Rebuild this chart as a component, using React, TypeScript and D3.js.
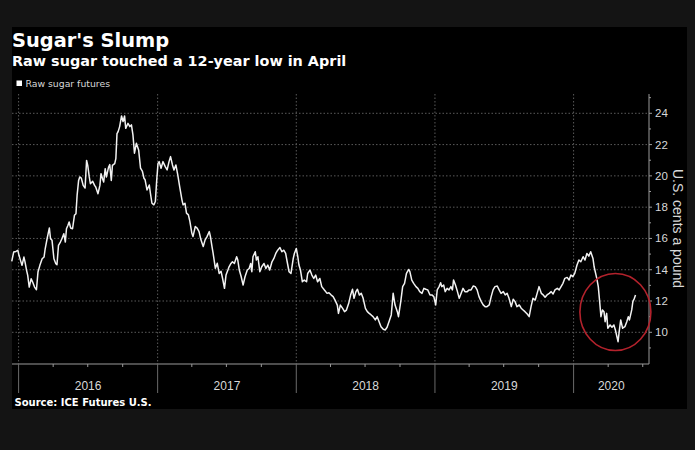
import React from "react";
import * as d3 from "d3";

const W = 695;
const H = 450;

const dates: string[] = [
  "2015-12-14","2015-12-19","2015-12-25","2015-12-30","2016-01-02","2016-01-06","2016-01-10","2016-01-15","2016-01-18","2016-01-22",
  "2016-01-25","2016-01-29","2016-02-03","2016-02-07","2016-02-12","2016-02-17","2016-02-21","2016-02-26","2016-03-03","2016-03-08",
  "2016-03-11","2016-03-16","2016-03-22","2016-03-25","2016-03-29","2016-04-03","2016-04-08","2016-04-11","2016-04-15","2016-04-20",
  "2016-04-24","2016-04-29","2016-05-03","2016-05-06","2016-05-10","2016-05-13","2016-05-17","2016-05-22","2016-05-27","2016-05-31",
  "2016-06-03","2016-06-07","2016-06-10","2016-06-14","2016-06-19","2016-06-24","2016-06-28","2016-07-01","2016-07-05","2016-07-08",
  "2016-07-14","2016-07-19","2016-07-22","2016-07-28","2016-08-02","2016-08-05","2016-08-09","2016-08-12","2016-08-16","2016-08-19",
  "2016-08-25","2016-08-28","2016-09-01","2016-09-04","2016-09-10","2016-09-13","2016-09-16","2016-09-19","2016-09-23","2016-09-28",
  "2016-10-02","2016-10-06","2016-10-09","2016-10-15","2016-10-20","2016-10-24","2016-10-28","2016-11-01","2016-11-06","2016-11-12",
  "2016-11-17","2016-11-22","2016-11-26","2016-11-29","2016-12-04","2016-12-10","2016-12-13","2016-12-17","2016-12-22","2016-12-26",
  "2016-12-29","2017-01-02","2017-01-05","2017-01-10","2017-01-15","2017-01-21","2017-01-26","2017-01-31","2017-02-04","2017-02-09",
  "2017-02-13","2017-02-18","2017-02-23","2017-02-28","2017-03-06","2017-03-09","2017-03-14","2017-03-18","2017-03-23","2017-03-27",
  "2017-04-01","2017-04-04","2017-04-10","2017-04-15","2017-04-20","2017-04-25","2017-05-01","2017-05-06","2017-05-11","2017-05-17",
  "2017-05-20","2017-05-24","2017-05-27","2017-06-02","2017-06-07","2017-06-12","2017-06-17","2017-06-21","2017-06-26","2017-06-30",
  "2017-07-05","2017-07-08","2017-07-13","2017-07-17","2017-07-22","2017-07-28","2017-07-31","2017-08-04","2017-08-09","2017-08-14",
  "2017-08-19","2017-08-25","2017-08-30","2017-09-03","2017-09-06","2017-09-09","2017-09-15","2017-09-18","2017-09-22","2017-09-27",
  "2017-10-02","2017-10-08","2017-10-13","2017-10-18","2017-10-23","2017-10-29","2017-11-03","2017-11-08","2017-11-13","2017-11-19",
  "2017-11-24","2017-11-29","2017-12-04","2017-12-08","2017-12-13","2017-12-18","2017-12-24","2017-12-27","2018-01-01","2018-01-05",
  "2018-01-08","2018-01-12","2018-01-17","2018-01-22","2018-01-28","2018-01-31","2018-02-06","2018-02-11","2018-02-16","2018-02-21",
  "2018-02-26","2018-03-04","2018-03-09","2018-03-16","2018-03-23","2018-03-28","2018-04-03","2018-04-08","2018-04-13","2018-04-19",
  "2018-04-22","2018-04-27","2018-05-03","2018-05-08","2018-05-13","2018-05-19","2018-05-24","2018-05-29","2018-06-02","2018-06-07",
  "2018-06-11","2018-06-16","2018-06-21","2018-06-26","2018-07-02","2018-07-07","2018-07-12","2018-07-17","2018-07-22","2018-07-28",
  "2018-08-02","2018-08-07","2018-08-12","2018-08-18","2018-08-23","2018-08-28","2018-09-02","2018-09-08","2018-09-13","2018-09-18",
  "2018-09-24","2018-09-27","2018-10-03","2018-10-08","2018-10-13","2018-10-18","2018-10-24","2018-10-27","2018-11-01","2018-11-06",
  "2018-11-12","2018-11-17","2018-11-22","2018-11-28","2018-12-03","2018-12-08","2018-12-13","2018-12-19","2018-12-24","2018-12-29",
  "2019-01-03","2019-01-07","2019-01-12","2019-01-16","2019-01-19","2019-01-24","2019-01-28","2019-02-02","2019-02-07","2019-02-12",
  "2019-02-16","2019-02-19","2019-02-24","2019-02-28","2019-03-06","2019-03-11","2019-03-16","2019-03-21","2019-03-27","2019-04-01",
  "2019-04-06","2019-04-12","2019-04-17","2019-04-22","2019-04-27","2019-05-03","2019-05-08","2019-05-13","2019-05-18","2019-05-24",
  "2019-05-29","2019-06-03","2019-06-08","2019-06-14","2019-06-19","2019-06-24","2019-06-30","2019-07-05","2019-07-10","2019-07-15",
  "2019-07-21","2019-07-26","2019-07-31","2019-08-05","2019-08-11","2019-08-16","2019-08-21","2019-08-26","2019-09-01","2019-09-06",
  "2019-09-11","2019-09-16","2019-09-22","2019-09-27","2019-10-02","2019-10-08","2019-10-13","2019-10-18","2019-10-23","2019-10-29",
  "2019-11-03","2019-11-08","2019-11-13","2019-11-19","2019-11-24","2019-11-29","2019-12-04","2019-12-09","2019-12-15","2019-12-20",
  "2019-12-25","2019-12-30","2020-01-04","2020-01-10","2020-01-15","2020-01-20","2020-01-26","2020-01-31","2020-02-05","2020-02-10",
  "2020-02-15","2020-02-21","2020-02-24","2020-02-28","2020-03-02","2020-03-06","2020-03-10","2020-03-13","2020-03-17","2020-03-21",
  "2020-03-24","2020-03-28","2020-03-31","2020-04-06","2020-04-11","2020-04-16","2020-04-20","2020-04-23","2020-04-27","2020-04-30",
  "2020-05-04","2020-05-09","2020-05-15","2020-05-20","2020-05-24","2020-05-27","2020-06-02","2020-06-05","2020-06-09","2020-06-12",
];

const prices: number[] = [
  14.53,15.13,15.17,15.24,14.92,14.6,14.28,14.81,14.49,13.96,
  13.64,12.89,13.42,13.21,12.89,12.72,13.85,14.28,14.7,14.81,
  15.34,15.98,16.67,15.98,15.88,14.7,14.38,14.32,15.56,15.77,
  15.98,16.3,15.77,16.62,16.84,17.05,16.67,16.62,17.48,17.58,
  18.75,19.71,19.93,19.86,19.39,19.22,20.99,20.67,19.93,19.5,
  19.65,19.39,19.29,18.86,19.39,20.14,19.82,19.61,20.46,19.93,
  20.57,20.72,19.71,20.67,20.78,21.1,22.7,22.83,23.15,23.83,
  23.47,23.83,23.04,23.36,23.15,23.26,22.62,21.45,22.08,21.66,
  20.49,20.28,19.85,19.75,19.1,19.42,18.89,18.25,18.15,18.36,
  19.53,20.8,20.91,20.49,20.91,20.59,20.38,20.91,21.23,20.7,
  20.38,20.7,20.06,19.32,18.47,18.15,18.25,17.62,17.51,17.08,
  16.34,16.12,16.76,16.66,16.44,15.91,15.49,15.91,16.12,16.44,
  16.12,15.49,15.06,14.09,14.41,13.76,13.9,13.44,12.81,13.66,
  13.98,14.19,14.4,14.51,14.4,14.83,14.62,13.98,13.55,13.02,
  13.55,13.98,14.08,14.4,13.87,14.83,15.15,14.62,14.83,13.87,
  14.19,14.4,14.08,14.3,13.98,14.51,14.72,15.04,15.25,15.42,
  15.15,15.25,15.04,14.51,13.87,13.76,14.72,15.04,15.36,14.83,
  14.3,13.98,13.23,13.34,13.23,13.76,13.98,13.66,13.44,13.66,
  13.23,13.44,12.92,12.7,12.49,12.53,12.38,12.28,12.06,11.74,
  11.21,11.74,11.53,11.32,11.42,11.85,12.38,12.75,12.17,12.6,
  12.75,12.38,12.49,12.17,11.53,11.32,11.21,11.11,11.0,10.79,
  11.0,10.68,10.36,10.19,10.15,10.32,10.68,11.11,12.49,11.74,
  11.32,11.0,11.96,12.92,13.13,13.77,14.02,13.88,13.34,13.13,
  12.92,12.81,12.6,12.49,12.81,12.75,12.71,12.38,12.39,12.28,
  11.75,12.71,12.92,13.17,12.92,13.02,12.6,12.81,12.71,12.92,
  12.71,13.35,13.02,12.71,12.17,12.49,12.81,12.6,12.6,12.71,
  12.71,12.96,12.92,12.71,12.28,11.96,11.75,11.64,11.64,11.75,
  12.28,12.71,12.92,12.96,12.71,12.49,12.6,12.39,12.49,12.17,
  11.64,12.11,11.96,11.64,11.75,11.54,11.43,11.32,11.17,11.0,
  11.64,12.17,12.06,12.49,12.92,12.49,12.39,12.24,12.39,12.49,
  12.6,12.45,12.71,12.81,12.71,12.92,13.13,13.45,13.51,13.34,
  13.66,13.56,13.77,14.3,14.62,14.51,14.83,14.62,15.04,14.87,
  15.15,14.72,14.19,13.77,13.45,12.92,11.85,11.0,11.43,11.32,
  10.68,11.21,10.26,10.47,10.32,10.47,10.15,9.83,9.4,10.04,
  10.79,10.26,10.36,10.68,11.0,10.79,11.43,11.96,12.17,12.39,
];

const yearLabels: string[] = ["2016", "2017", "2018", "2019", "2020"];
const yTicks: number[] = [10, 12, 14, 16, 18, 20, 22, 24];
const yMinorTicks: number[] = [9, 11, 13, 15, 17, 19, 21, 23, 25];

const title = "Sugar's Slump";
const subtitle = "Raw sugar touched a 12-year low in April";
const legendLabel = "Raw sugar futures";
const yAxisTitle = "U.S. cents a pound";
const source = "Source: ICE Futures U.S.";

// highlighted low (circled), as date/value centre of the annotation
const circleCenter: [string, number] = ["2020-04-20", 11.3];

const parse = d3.timeParse("%Y-%m-%d");

export default function App() {
  const data = dates.map((d, i) => ({ date: parse(d) as Date, v: prices[i] }));

  const axisLeft = 12;
  const axisRight = 649;
  const axisTop = 94;
  const axisBottom = 364;

  const x = d3
    .scaleTime()
    .domain([new Date(2016, 0, 1), new Date(2020, 0, 1)])
    .range([18.6, 573.6]);
  const y = d3.scaleLinear().domain([10, 24]).range([332.3, 113.3]);

  const endDate = x.invert(axisRight);
  const yearStarts = yearLabels.map((yr) => new Date(+yr, 0, 1));
  const quarterTicks = d3
    .timeMonth.every(3)!
    .range(new Date(2016, 0, 1), endDate)
    .filter((d) => d.getMonth() !== 0);

  const line = d3
    .line<{ date: Date; v: number }>()
    .x((d) => x(d.date))
    .y((d) => y(d.v));

  const gridColor = "#5a5a5a";
  const axisColor = "#9a9a9a";
  const textColor = "#d8d8d8";
  const sans = "'Liberation Sans', Arial, sans-serif";
  const bold = "'DejaVu Sans', Verdana, sans-serif";

  const cc = { x: x(parse(circleCenter[0]) as Date), y: y(circleCenter[1]) };

  return (
    <div style={{ position: "absolute", left: 0, top: 0, width: W, height: H }}>
      <svg width={W} height={H} style={{ display: "block" }}>
        <rect x={0} y={0} width={W} height={H} fill="#141414" />
        <rect x={12} y={27} width={675} height={382} fill="#000" />

        <text x={12} y={47} fill="#fff" fontFamily={bold} fontWeight="bold" fontSize={19.4}>
          {title}
        </text>
        <text x={12} y={65.5} fill="#fff" fontFamily={bold} fontWeight="bold" fontSize={14.4}>
          {subtitle}
        </text>
        <rect x={16.5} y={80.5} width={5.5} height={5.5} fill="#fff" />
        <text x={25.5} y={87} fill={textColor} fontFamily={bold} fontSize={9.3}>
          {legendLabel}
        </text>

        {/* horizontal grid */}
        {yTicks.map((t) => (
          <line
            key={"hg" + t}
            x1={axisLeft}
            x2={axisRight}
            y1={y(t)}
            y2={y(t)}
            stroke={gridColor}
            strokeWidth={1}
            strokeDasharray="1.5,2"
          />
        ))}
        {/* vertical grid at year starts */}
        {yearStarts.map((d, i) => (
          <line
            key={"vg" + i}
            x1={x(d)}
            x2={x(d)}
            y1={axisTop}
            y2={axisBottom}
            stroke={gridColor}
            strokeWidth={1}
            strokeDasharray="1.5,2"
          />
        ))}

        {/* x axis */}
        <line x1={axisLeft} x2={axisRight} y1={axisBottom} y2={axisBottom} stroke={axisColor} strokeWidth={1} />
        {quarterTicks.map((d, i) => (
          <line key={"qt" + i} x1={x(d)} x2={x(d)} y1={axisBottom} y2={axisBottom + 3} stroke={axisColor} />
        ))}
        {yearStarts.map((d, i) => (
          <line key={"yt" + i} x1={x(d)} x2={x(d)} y1={axisBottom} y2={393} stroke={"#6a6a6a"} />
        ))}
        {yearLabels.map((lab, i) => {
          const a = x(yearStarts[i]);
          const b = i < yearStarts.length - 1 ? x(yearStarts[i + 1]) : axisRight;
          return (
            <text
              key={"yl" + lab}
              x={(a + b) / 2}
              y={390}
              textAnchor="middle"
              fill={textColor}
              fontFamily={sans}
              fontSize={12}
            >
              {lab}
            </text>
          );
        })}

        {/* y axis */}
        <line x1={axisRight} x2={axisRight} y1={axisTop} y2={axisBottom} stroke={axisColor} strokeWidth={1} />
        {yMinorTicks.map((t) => (
          <line key={"ymt" + t} x1={axisRight} x2={axisRight + 2} y1={y(t)} y2={y(t)} stroke={axisColor} />
        ))}
        {yTicks.map((t) => (
          <g key={"yt" + t}>
            <line x1={axisRight} x2={axisRight + 3} y1={y(t)} y2={y(t)} stroke={axisColor} />
            <text x={655} y={y(t) + 4} fill={textColor} fontFamily={sans} fontSize={11.5}>
              {t}
            </text>
          </g>
        ))}
        <text
          transform={`translate(673, ${228.5}) rotate(90)`}
          textAnchor="middle"
          fill={textColor}
          fontFamily={sans}
          fontSize={14}
        >
          {yAxisTitle}
        </text>

        {/* series */}
        <path d={line(data) || ""} fill="none" stroke="#f2f2f2" strokeWidth={1.5} strokeLinejoin="round" />

        {/* annotation circle */}
        <ellipse cx={cc.x} cy={cc.y} rx={35.5} ry={38.5} fill="none" stroke="#b3222c" strokeWidth={1.6} />

        <text x={14.5} y={406} fill="#fff" fontFamily={bold} fontWeight="bold" fontSize={10}>
          {source}
        </text>
      </svg>
    </div>
  );
}
